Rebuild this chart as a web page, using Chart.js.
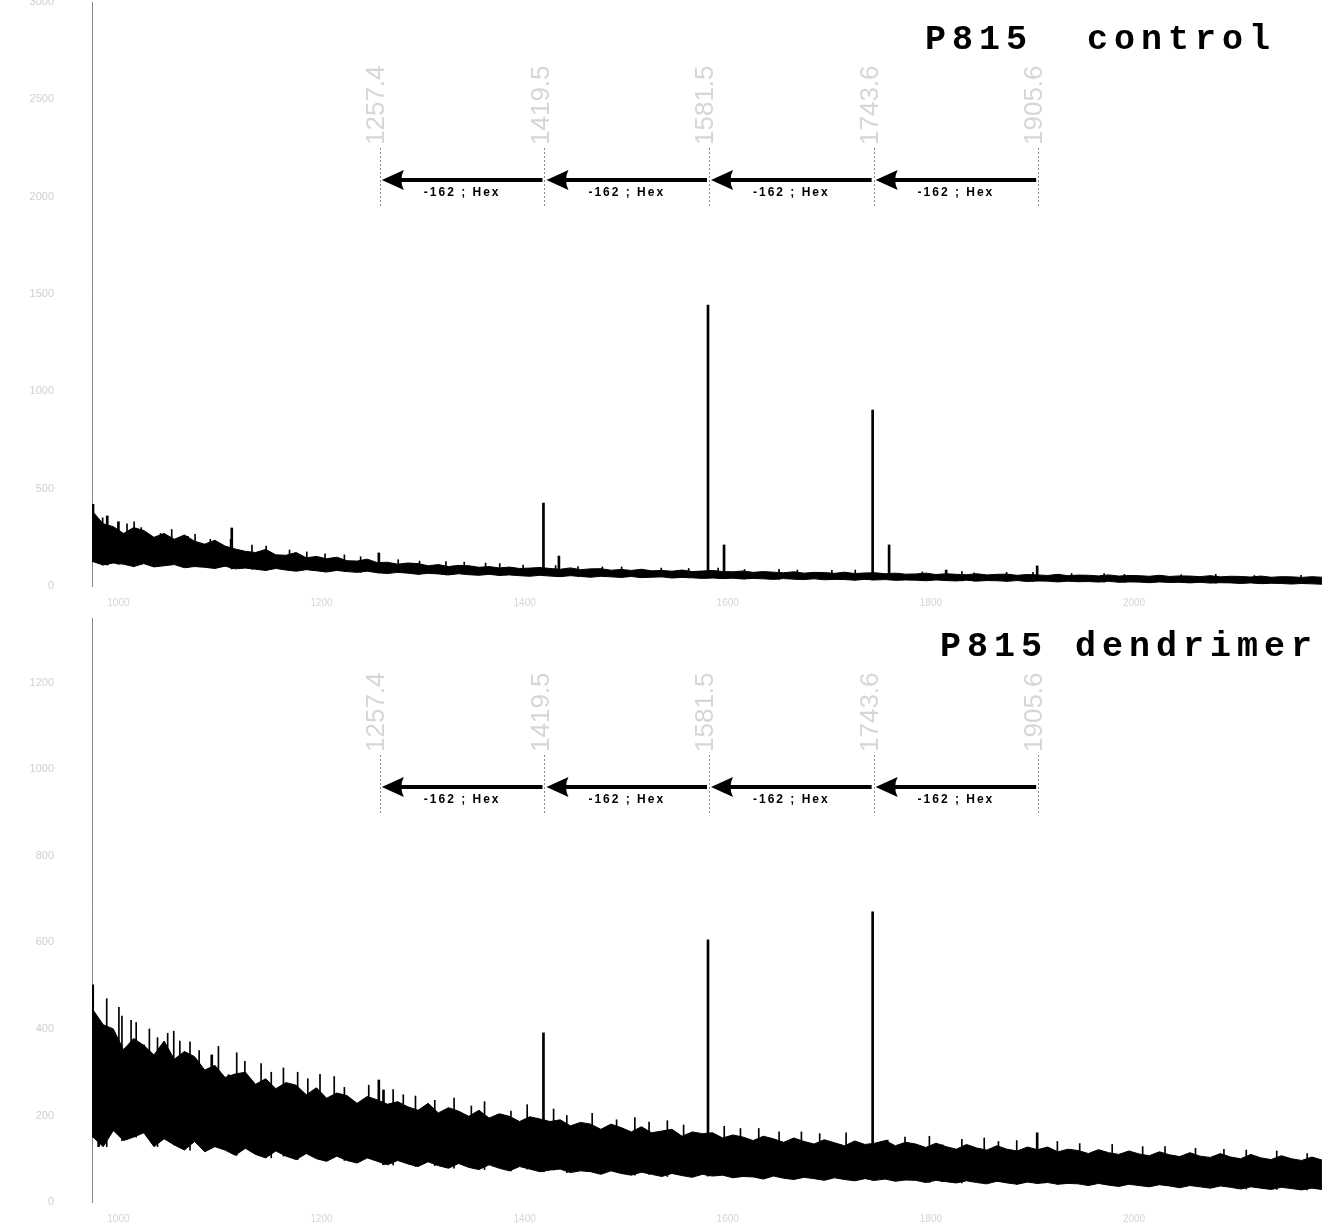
<!DOCTYPE html>
<html>
<head>
<meta charset="utf-8">
<script src="https://cdn.jsdelivr.net/npm/chart.js@4.4.1/dist/chart.umd.min.js"></script>
<style>
  body { margin: 0; background: #fff; }
  #wrap { position: relative; width: 1326px; height: 1222px; overflow: hidden; }
  canvas { position: absolute; left: 0; }
  .title {
    position: absolute;
    font: bold 35px "Liberation Mono", "DejaVu Sans Mono", monospace;
    line-height: 35px;
    letter-spacing: 6px;
    white-space: pre;
    color: #000;
  }
</style>
</head>
<body>
<div id="wrap">
  <canvas id="top" width="1326" height="610" style="top:0"></canvas>
  <canvas id="bottom" width="1326" height="612" style="top:610px"></canvas>
  <div class="title" style="left:925px; top:23px">P815  control</div>
  <div class="title" style="left:940px; top:630px">P815 dendrimer</div>
</div>
<script>
// m/z grid for the noise band (read every ~10 Da)
const massGrid = [975,985,995,1005,1015,1025,1035,1045,1055,1065,1075,1085,1095,1105,1115,1125,1135,1145,1155,1165,1175,1185,1195,1205,1215,1225,1235,1245,1255,1265,1275,1285,1295,1305,1315,1325,1335,1345,1355,1365,1375,1385,1395,1405,1415,1425,1435,1445,1455,1465,1475,1485,1495,1505,1515,1525,1535,1545,1555,1565,1575,1585,1595,1605,1615,1625,1635,1645,1655,1665,1675,1685,1695,1705,1715,1725,1735,1745,1755,1765,1775,1785,1795,1805,1815,1825,1835,1845,1855,1865,1875,1885,1895,1905,1915,1925,1935,1945,1955,1965,1975,1985,1995,2005,2015,2025,2035,2045,2055,2065,2075,2085,2095,2105,2115,2125,2135,2145,2155,2165,2175,2185];
const xTickValues = [1000, 1200, 1400, 1600, 1800, 2000];

// P815 control: upper / lower edge of the noise band
const controlUpper = [380,320,305,270,300,285,250,270,240,262,230,215,235,205,
  190,178,172,188,160,158,172,145,152,140,148,130,128,138,120,
  122,112,118,115,104,110,100,106,104,96,100,93,97,90,92,95,
  90,86,93,84,88,89,81,85,80,86,78,80,76,82,74,77,
  80,74,73,77,70,74,71,68,73,66,70,69,65,71,64,67,68,
  63,66,61,62,66,59,63,60,58,63,57,60,61,55,59,57,54,60,53,56,
  55,52,57,51,54,53,50,55,49,52,51,48,53,47,50,49,46,51,45,48,47,44,48,45];
const controlLower = [125,108,118,112,100,115,98,104,110,94,100,96,90,102,
  88,92,86,80,90,82,76,84,78,72,80,74,70,76,68,
  64,70,66,60,65,62,57,63,58,55,60,54,57,53,50,55,
  51,48,53,49,45,50,47,44,49,43,45,47,41,44,42,39,
  41,38,40,36,39,37,34,38,35,33,37,32,34,33,30,34,31,
  33,29,31,30,27,31,28,26,30,25,28,27,24,28,23,26,25,21,25,22,
  23,20,24,19,21,20,17,21,18,19,16,19,15,17,16,13,16,12,14,13,10,13,11,9];
const controlPeakMass   = [976, 990, 1001, 1112.6, 1257.4, 1419.5, 1434.7, 1581.5, 1597.3, 1743.6, 1759.8, 1816, 1905.6];
const controlPeakHeight = [420, 360, 330, 298, 170, 426, 154, 1443, 211, 904, 211, 82, 103];
const controlMinorMass   = [984,1008,1015,1022,1041,1052,1068,1075,1090,1110,1131,1145,1168,1185,1203,1222,1238,1275,1296,1322,1340,1361,1375,1398,1430,1452,1476,1495,1534,1561,1590,1616,1650,1668,1702,1725,1791,1830,1842,1874,1900,1938,1970,1990,2046,2080,2118,2164];
const controlMinorHeight = [350,320,330,300,270,290,255,265,240,240,210,205,185,175,165,160,150,135,128,125,122,118,115,108,105,100,98,98,92,90,92,85,86,82,80,82,72,74,68,70,70,64,64,60,58,60,54,55];

// P815 dendrimer
const dendUpper = [444,410,
  400,352,378,362,340,372,330,348,336,
  305,316,288,296,300,272,285,262,276,270,248,264,240,252,246,228,244,236,
  226,232,220,212,228,206,218,210,198,212,194,204,198,186,197,192,
  186,190,176,184,180,168,180,172,162,174,160,164,168,152,162,158,
  160,148,155,150,142,152,146,138,148,140,134,144,137,130,141,133,136,
  142,130,138,134,126,136,128,122,133,125,120,130,122,118,127,121,
  127,116,122,119,112,121,114,110,118,111,107,116,109,105,114,106,103,112,104,100,110,102,98,107,100,96,104,97];
const dendLower = [150,128,
  165,142,150,160,128,146,132,120,140,
  116,128,120,108,124,110,102,118,106,98,112,100,94,106,96,90,102,94,
  86,96,88,82,93,84,78,89,80,75,86,78,72,82,76,70,
  74,76,68,72,70,64,72,66,62,69,64,59,66,61,57,64,
  60,62,56,59,58,53,60,55,52,57,54,50,56,52,49,54,50,
  53,48,51,50,45,50,47,44,49,45,42,48,44,41,46,43,
  45,41,43,42,38,43,39,36,41,38,35,40,37,33,38,35,32,37,34,30,35,32,29,34,31,28,32,29];
const dendPeakMass   = [975.7, 981.5, 996.4, 1025.9, 1092.9, 1109.6, 1257.4, 1262, 1419.5, 1581.5, 1743.6, 1758, 1812, 1905.6];
const dendPeakHeight = [502, 420, 375, 363, 340, 294, 282, 259, 391, 606, 671, 143, 132, 160];
const dendMinorMass   = [988,1003,1017,1048,1060,1079,1124,1150,1186,1222,1280,1311,1347,1386,1441,1490,1522,1556,1612,1650,1690,1774,1830,1866,1946,2008,2060,2110,2170,
  1000,1012,1030,1038,1054,1070,1098,1116,1140,1162,1176,1198,1212,1246,1270,1292,1330,1360,1402,1428,1466,1508,1540,1596,1630,1672,1716,1798,1852,1884,1924,1978,2030,2088,2140];
const dendMinorHeight = [470,430,415,390,372,350,325,300,285,265,248,235,222,210,200,190,185,178,170,162,158,150,145,140,135,128,124,120,112,
  450,420,400,380,395,370,360,345,320,310,300,295,290,270,260,245,240,232,225,215,205,195,188,175,170,162,160,152,148,142,140,133,128,122,118];

// annotated Hex ladder
const ladderMass   = [1257.4, 1419.5, 1581.5, 1743.6, 1905.6];
const ladderLabels = ['1257.4', '1419.5', '1581.5', '1743.6', '1905.6'];
const ladderStep   = '-162 ; Hex';

Chart.defaults.font.family = '"Liberation Sans", Arial, sans-serif';

const hexLadder = {
    id: 'hexLadder',
    afterDatasetsDraw(chart, args, opts) {
        const ctx = chart.ctx;
        const xs = chart.scales.x;
        const ay = Math.round(chart.scales.y.getPixelForValue(opts.arrowValue));
        const px = opts.masses.map(m => xs.getPixelForValue(m));
        ctx.save();

        // dotted guides at each peak
        ctx.strokeStyle = '#8a8a8a';
        ctx.lineWidth = 1;
        ctx.setLineDash([2, 2]);
        px.forEach(x => {
            const xx = Math.round(x) + 0.5;
            ctx.beginPath();
            ctx.moveTo(xx, ay - 32);
            ctx.lineTo(xx, ay + 26);
            ctx.stroke();
        });
        ctx.setLineDash([]);

        // faint vertical mass labels
        ctx.fillStyle = '#d6d6d6';
        ctx.font = '26px "Liberation Sans"';
        ctx.textBaseline = 'middle';
        ctx.textAlign = 'left';
        px.forEach((x, i) => {
            ctx.save();
            ctx.translate(x - 3, ay - 35);
            ctx.rotate(-Math.PI / 2);
            ctx.fillText(opts.labels[i], 0, 0);
            ctx.restore();
        });

        // arrows pointing to lower mass
        for (let i = 0; i < px.length - 1; i++) {
            const tip = px[i] + 2;
            const tail = px[i + 1] - 2;
            ctx.strokeStyle = '#000';
            ctx.lineWidth = 4;
            ctx.beginPath();
            ctx.moveTo(tail, ay);
            ctx.lineTo(tip + 16, ay);
            ctx.stroke();
            ctx.fillStyle = '#000';
            ctx.beginPath();
            ctx.moveTo(tip, ay);
            ctx.lineTo(tip + 22, ay - 10);
            ctx.quadraticCurveTo(tip + 17, ay, tip + 22, ay + 10);
            ctx.closePath();
            ctx.fill();

            ctx.font = 'bold 12px "Liberation Sans"';
            ctx.letterSpacing = '2px';
            ctx.textAlign = 'center';
            ctx.fillText(opts.step, (tip + tail) / 2, ay + 13);
            ctx.letterSpacing = '0px';
        }
        ctx.restore();
    }
};

// spikes rise from the bottom of the noise band, not from zero
function nearestIndex(m) {
    let best = 0;
    massGrid.forEach((g, i) => {
        if (Math.abs(g - m) < Math.abs(massGrid[best] - m)) best = i;
    });
    return best;
}

function spikePoints(masses, heights, lower) {
    return masses.map((m, i) => ({x: m, y: [lower[nearestIndex(m)], heights[i]]}));
}

function toPoints(xs, ys) {
    return xs.map((x, i) => ({x: x, y: ys[i]}));
}

function makePanel(id, upper, lower, peakMass, peakHeight, minorMass, minorHeight, yMax, yStep, padTop, xHeight, arrowValue) {
    return new Chart(document.getElementById(id), {
        type: 'line',
        data: {
            datasets: [{
                data: toPoints(massGrid, lower),
                borderColor: '#000',
                borderWidth: 1,
                pointRadius: 0,
                fill: false
            }, {
                data: toPoints(massGrid, upper),
                borderColor: '#000',
                borderWidth: 1,
                pointRadius: 0,
                fill: '-1',
                backgroundColor: '#000'
            }, {
                type: 'bar',
                data: spikePoints(peakMass, peakHeight, lower),
                backgroundColor: '#000',
                borderWidth: 0,
                barThickness: 2
            }, {
                type: 'bar',
                data: spikePoints(minorMass, minorHeight, lower),
                backgroundColor: '#000',
                borderWidth: 0,
                barThickness: 1
            }]
        },
        options: {
            responsive: false,
            animation: false,
            devicePixelRatio: 1,
            layout: {padding: {top: padTop, right: 0, left: 0, bottom: 0}},
            plugins: {
                legend: {display: false},
                tooltip: {enabled: false},
                hexLadder: {masses: ladderMass, labels: ladderLabels, step: ladderStep, arrowValue: arrowValue}
            },
            scales: {
                x: {
                    type: 'linear',
                    min: 974,
                    max: 2189,
                    offset: false,
                    grid: {display: false},
                    border: {display: false},
                    ticks: {
                        color: '#d4d4d4',
                        font: {size: 10},
                        maxRotation: 0,
                        callback: v => String(v)
                    },
                    afterBuildTicks(s) { s.ticks = xTickValues.map(v => ({value: v})); },
                    afterFit(s) { s.height = xHeight; s.paddingLeft = 0; s.paddingRight = 0; }
                },
                y: {
                    min: 0,
                    max: yMax,
                    grid: {display: false},
                    border: {display: true, color: '#888', dash: [1, 3]},
                    ticks: {
                        stepSize: yStep,
                        includeBounds: false,
                        color: '#cfcfcf',
                        font: {size: 11},
                        padding: 30,
                        callback: v => String(v)
                    },
                    afterFit(s) { s.width = 92; s.paddingTop = 0; s.paddingBottom = 0; }
                }
            }
        },
        plugins: [hexLadder]
    });
}

makePanel('top', controlUpper, controlLower, controlPeakMass, controlPeakHeight,
    controlMinorMass, controlMinorHeight, 3000, 500, 2, 24, 2086);
makePanel('bottom', dendUpper, dendLower, dendPeakMass, dendPeakHeight,
    dendMinorMass, dendMinorHeight, 1350, 200, 8, 20, 960);
</script>
</body>
</html>
